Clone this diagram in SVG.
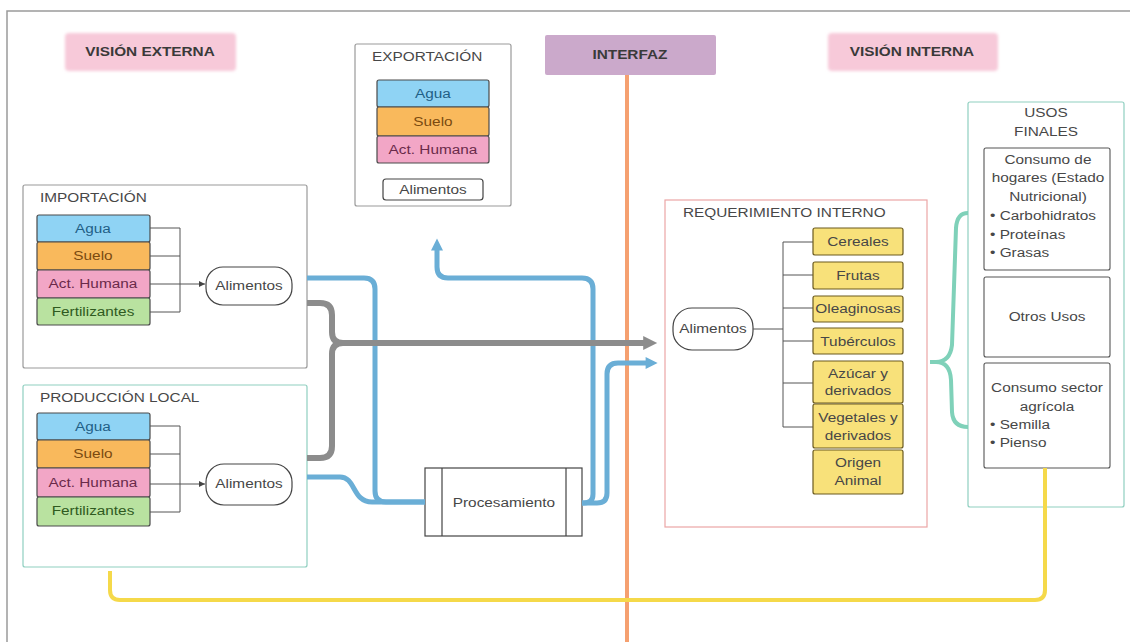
<svg xmlns="http://www.w3.org/2000/svg" width="1130" height="642" viewBox="0 0 1130 642">
<style>
text{font-family:"Liberation Sans",Arial,sans-serif;font-size:12px;fill:#474747;transform-box:fill-box;transform-origin:center;transform:scaleX(1.28)}
.l{transform-origin:left center}
.t{font-weight:bold;fill:#3a3a3a}
.c{text-anchor:middle}
.frame{fill:#fff;stroke:#9a9a9a;stroke-width:1.2}
.cell{stroke:#4a4a4a;stroke-width:1.2}
.pill{fill:#fff;stroke:#444;stroke-width:1.2}
.br{fill:none;stroke:#555;stroke-width:1}
.yel{fill:#f8e17a;stroke:#6b5a1e;stroke-width:1.2}
.blue{fill:none;stroke:#6aaed6;stroke-width:5;stroke-linejoin:round}
.gray{fill:none;stroke:#8c8c8c;stroke-width:6;stroke-linejoin:round}
.pink{fill:#f7c9d9}
</style>
<defs>
<filter id="soft" x="-10%" y="-30%" width="120%" height="160%"><feGaussianBlur stdDeviation="1.5"/></filter>
<marker id="ah" viewBox="0 0 10 10" refX="10" refY="5" markerWidth="6" markerHeight="6" markerUnits="userSpaceOnUse" orient="auto"><path d="M0,0 L10,5 L0,10 z" fill="#444"/></marker>
<marker id="ag" viewBox="0 0 10 10" refX="2" refY="5" markerWidth="16" markerHeight="14" markerUnits="userSpaceOnUse" orient="auto"><path d="M0,0 L10,5 L0,10 z" fill="#8c8c8c"/></marker>
<marker id="ab" viewBox="0 0 10 10" refX="2" refY="5" markerWidth="14" markerHeight="12" markerUnits="userSpaceOnUse" orient="auto"><path d="M0,0 L10,5 L0,10 z" fill="#6aaed6"/></marker>
</defs>
<rect width="1130" height="642" fill="#fff"/>
<path d="M7,642 V11 H1130" fill="none" stroke="#9a9a9a" stroke-width="1.5"/>
<g id="vision-externa"><rect class="pink" x="65" y="33" width="171" height="38" rx="4" filter="url(#soft)"/><text class="t c" x="150" y="56">VISIÓN EXTERNA</text></g>
<g id="interfaz"><rect x="545" y="35" width="171" height="40" rx="2" fill="#cba9cb"/><text class="t c" x="630" y="59">INTERFAZ</text></g>
<g id="vision-interna"><rect class="pink" x="828" y="33" width="170" height="38" rx="4" filter="url(#soft)"/><text class="t c" x="912" y="56">VISIÓN INTERNA</text></g>
<line x1="627" y1="75" x2="627" y2="642" stroke="#f5a070" stroke-width="4"/>
<g id="exportacion">
<rect class="frame" x="355" y="44" width="156" height="162" rx="2"/>
<text class="l" x="372" y="61">EXPORTACIÓN</text>
<rect class="cell" x="377" y="80" width="112" height="27" rx="2" fill="#8fd3f4"/><text class="c" x="433" y="98" style="fill:#1f5f86">Agua</text>
<rect class="cell" x="377" y="107" width="112" height="29" rx="2" fill="#f9b95c"/><text class="c" x="433" y="126" style="fill:#7a4a10">Suelo</text>
<rect class="cell" x="377" y="136" width="112" height="27" rx="2" fill="#f2a6c6"/><text class="c" x="433" y="154" style="fill:#6a2a4a">Act. Humana</text>
<rect class="pill" x="383" y="179" width="100" height="21" rx="3"/><text class="c" x="433" y="194">Alimentos</text>
</g>
<g id="importacion">
<rect class="frame" x="23" y="185" width="284" height="183" rx="2"/>
<text class="l" x="40" y="202">IMPORTACIÓN</text>
<rect class="cell" x="37" y="215" width="113" height="27" rx="2" fill="#8fd3f4"/><text class="c" x="93" y="233" style="fill:#1f5f86">Agua</text>
<rect class="cell" x="37" y="242" width="113" height="28" rx="2" fill="#f9b95c"/><text class="c" x="93" y="260" style="fill:#7a4a10">Suelo</text>
<rect class="cell" x="37" y="270" width="113" height="28" rx="2" fill="#f2a6c6"/><text class="c" x="93" y="288" style="fill:#6a2a4a">Act. Humana</text>
<rect class="cell" x="37" y="298" width="113" height="27" rx="2" fill="#b9e2a0"/><text class="c" x="93" y="316" style="fill:#2f5a20">Fertilizantes</text>
<path class="br" d="M150,228 H180 M150,256 H180 M150,312 H180 M180,228 V312"/>
<path class="br" d="M150,284 H205" marker-end="url(#ah)"/>
<rect class="pill" x="206" y="267" width="86" height="38" rx="17"/><text class="c" x="249" y="290">Alimentos</text>
</g>
<g id="produccion-local">
<rect x="23" y="385" width="284" height="182" rx="2" fill="#fff" stroke="#8fcfc0" stroke-width="1.2"/>
<text class="l" x="40" y="402">PRODUCCIÓN LOCAL</text>
<rect class="cell" x="37" y="413" width="113" height="27" rx="2" fill="#8fd3f4"/><text class="c" x="93" y="431" style="fill:#1f5f86">Agua</text>
<rect class="cell" x="37" y="440" width="113" height="28" rx="2" fill="#f9b95c"/><text class="c" x="93" y="458" style="fill:#7a4a10">Suelo</text>
<rect class="cell" x="37" y="468" width="113" height="29" rx="2" fill="#f2a6c6"/><text class="c" x="93" y="487" style="fill:#6a2a4a">Act. Humana</text>
<rect class="cell" x="37" y="497" width="113" height="29" rx="2" fill="#b9e2a0"/><text class="c" x="93" y="515" style="fill:#2f5a20">Fertilizantes</text>
<path class="br" d="M150,426 H180 M150,454 H180 M150,512 H180 M180,426 V512"/>
<path class="br" d="M150,484 H205" marker-end="url(#ah)"/>
<rect class="pill" x="206" y="464" width="86" height="41" rx="18"/><text class="c" x="249" y="488">Alimentos</text>
</g>
<g id="procesamiento">
<rect x="425" y="468" width="157" height="68" fill="#fff" stroke="#444" stroke-width="1.2"/>
<path d="M442,468 V536 M566,468 V536" stroke="#444" stroke-width="1.2"/>
<text class="c" x="504" y="507">Procesamiento</text>
</g>
<g id="requerimiento-interno">
<rect x="665" y="200" width="262" height="327" fill="#fff" stroke="#eba6a6" stroke-width="1.2"/>
<text class="l" x="683" y="217">REQUERIMIENTO INTERNO</text>
<rect class="pill" x="673" y="308" width="80" height="42" rx="19"/><text class="c" x="713" y="333">Alimentos</text>
<path class="br" d="M753,329 H783 M783,242 V427 M783,242 H813 M783,275 H813 M783,308 H813 M783,341 H813 M783,383 H813 M783,427 H813"/>
<rect class="yel" x="813" y="228" width="90" height="27" rx="2"/><text class="c" x="858" y="246">Cereales</text>
<rect class="yel" x="813" y="262" width="90" height="27" rx="2"/><text class="c" x="858" y="280">Frutas</text>
<rect class="yel" x="813" y="296" width="90" height="26" rx="2"/><text class="c" x="858" y="313">Oleaginosas</text>
<rect class="yel" x="813" y="328" width="90" height="26" rx="2"/><text class="c" x="858" y="346">Tubérculos</text>
<rect class="yel" x="813" y="361" width="90" height="42" rx="2"/><text class="c" x="858" y="378">Azúcar y</text><text class="c" x="858" y="395">derivados</text>
<rect class="yel" x="813" y="404" width="90" height="44" rx="2"/><text class="c" x="858" y="422">Vegetales y</text><text class="c" x="858" y="440">derivados</text>
<rect class="yel" x="813" y="450" width="90" height="44" rx="2"/><text class="c" x="858" y="467">Origen</text><text class="c" x="858" y="485">Animal</text>
</g>
<g id="usos-finales">
<rect x="968" y="102" width="156" height="405" rx="2" fill="#fff" stroke="#8fcfc0" stroke-width="1.2"/>
<text class="c" x="1046" y="117">USOS</text><text class="c" x="1046" y="136">FINALES</text>
<rect x="984" y="148" width="126" height="122" rx="2" fill="#fff" stroke="#555" stroke-width="1.1"/>
<text class="c" x="1048" y="164">Consumo de</text>
<text class="c" x="1048" y="182">hogares (Estado</text>
<text class="c" x="1048" y="201">Nutricional)</text>
<text class="l" x="990" y="220">• Carbohidratos</text>
<text class="l" x="990" y="239">• Proteínas</text>
<text class="l" x="990" y="257">• Grasas</text>
<rect x="984" y="277" width="126" height="80" rx="2" fill="#fff" stroke="#555" stroke-width="1.1"/>
<text class="c" x="1047" y="321">Otros Usos</text>
<rect x="984" y="363" width="126" height="105" rx="2" fill="#fff" stroke="#555" stroke-width="1.1"/>
<text class="c" x="1047" y="392">Consumo sector</text>
<text class="c" x="1047" y="411">agrícola</text>
<text class="l" x="990" y="429">• Semilla</text>
<text class="l" x="990" y="447">• Pienso</text>
</g>
<g id="connectors">
<path class="blue" d="M307,278 H364 Q375,278 375,289 V491 Q375,502 386,502 H425"/>
<path class="blue" d="M307,477 H340 C356,477 352,502 372,502 H425"/>
<path class="blue" d="M582,503 H584 Q593,503 593,494 V289 Q593,278 582,278 H448 Q437,278 437,267 V248" marker-end="url(#ab)"/>
<path class="blue" d="M582,503 H597 Q607,503 607,493 V374 Q607,363 618,363 H648" marker-end="url(#ab)"/>
<path class="gray" d="M307,303 H320 Q332,303 332,315 V332 Q332,343 343,343 H646" marker-end="url(#ag)"/>
<path class="gray" d="M307,458 H320 Q332,458 332,446 V354 Q332,343 343,343"/>
<path d="M930,362 H936 Q950,362 952,345 L956,228 Q957,213 968,213 M936,362 Q950,362 951,380 L952,412 Q953,427 968,427" fill="none" stroke="#7fd1b9" stroke-width="4" stroke-linejoin="round"/>
<path d="M1045,468 V590 Q1045,600 1035,600 H120 Q110,600 110,590 V571" fill="none" stroke="#f5d94a" stroke-width="4"/>
</g>
</svg>
